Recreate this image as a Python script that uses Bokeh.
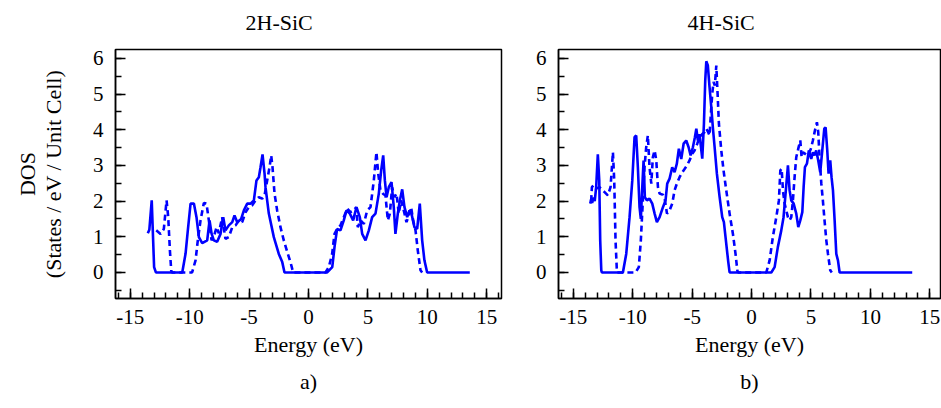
from bokeh.plotting import figure
from bokeh.layouts import row
from bokeh.models import SingleIntervalTicker, Title, Range1d
from bokeh.embed import file_html
from bokeh.resources import INLINE

# ---- 2H-SiC ----
e2_solid = [-13.53, -13.4, -13.2, -13.0, -12.85, -10.63, -10.35, -10.16, -9.93, -9.65, -9.43, -9.23, -8.95,
            -8.53, -8.33, -8.16, -7.97, -7.69, -7.41, -7.18, -6.99, -6.71, -6.42, -6.23, -6.0, -5.67, -5.44,
            -5.16, -4.88, -4.6, -4.38, -4.18, -4.04, -3.87, -3.7, -3.62, -3.34, -2.92, -2.5, -2.21, -2.02,
            1.57, 2.0, 2.19, 2.41, 2.69, 2.97, 3.2, 3.48, 3.76, 4.04, 4.32, 4.52, 4.8, 5.08, 5.36, 5.64, 5.92,
            6.12, 6.29, 6.43, 6.57, 6.76, 6.99, 7.18, 7.32, 7.52, 7.69, 7.89, 8.08, 8.31, 8.5, 8.67, 8.92,
            9.15, 9.37, 9.57, 9.76, 9.99, 13.58]
d2_solid = [1.10, 1.2, 2.02, 0.15, 0.0, 0.0, 0.53, 1.18, 1.93, 1.93, 1.55, 0.99, 0.82,
            0.9, 1.46, 1.09, 0.9, 0.86, 1.08, 1.55, 1.18, 1.32, 1.41, 1.6, 1.41, 1.5, 1.74,
            1.93, 1.93, 2.02, 2.58, 2.67, 2.95, 3.31, 2.77, 2.39, 1.65, 0.99, 0.52, 0.29, 0.0,
            0.0, 0.15, 0.71, 1.22, 1.18, 1.46, 1.74, 1.65, 1.46, 1.83, 1.55, 1.08, 0.9, 1.18, 1.55, 1.65, 2.21,
            2.86, 3.28, 2.58, 2.11, 2.39, 2.53, 1.83, 1.08, 1.65, 2.02, 2.33, 1.83, 1.55, 1.74, 1.65, 1.27,
            1.22, 1.93, 0.9, 0.34, 0.0, 0.0]
e2_dash = [-12.82, -12.46, -12.18, -11.95, -11.81, -11.67, -11.56, -11.5, -9.8, -9.51, -9.32, -9.09, -8.81,
           -8.59, -8.39, -8.16, -7.97, -7.74, -7.55, -7.27, -6.99, -6.71, -6.42, -6.14, -5.86, -5.58, -5.3,
           -5.02, -4.74, -4.46, -4.18, -3.9, -3.7, -3.48, -3.28, -3.14, -3.03, -2.86, -2.64, -2.36, -2.08,
           -1.74, -1.52, -1.29, 1.43, 1.71, 1.99, 2.19, 2.41, 2.69, 2.97, 3.26, 3.54, 3.81, 4.01, 4.15, 4.38,
           4.66, 4.94, 5.22, 5.5, 5.72, 5.87, 6.06, 6.29, 6.48, 6.68, 6.85, 7.04, 7.24, 7.41, 7.6, 7.8, 8.02,
           8.25, 8.45, 8.64, 8.81, 9.01, 9.2, 9.43, 9.57]
d2_dash = [1.18, 1.08, 1.22, 2.02, 1.55, 0.62, 0.06, 0.0, 0.0, 0.34, 0.9, 1.46, 1.95,
           1.93, 1.46, 0.9, 1.0, 1.27, 1.1, 1.55, 0.94, 0.99, 1.27, 1.32, 1.46, 1.41, 1.69,
           1.83, 1.88, 2.02, 2.11, 2.07, 2.16, 2.58, 2.95, 3.28, 2.95, 2.21, 1.74, 1.27, 0.9,
           0.52, 0.29, 0.0, 0.0, 0.15, 0.52, 1.08, 1.22, 1.32, 1.55, 1.79, 1.69, 1.74, 1.83, 1.27, 1.46,
           1.36, 1.74, 1.83, 2.58, 3.37, 2.77, 2.3, 2.2, 2.16, 1.46, 1.65, 2.39, 2.11, 2.21, 1.65, 2.02, 1.74,
           1.41, 1.6, 1.83, 1.46, 1.18, 0.62, 0.06, 0.0]

# ---- 4H-SiC ----
e4_solid = [-13.58, -13.5, -13.42, -13.3, -13.2, -13.08, -12.94, -12.82, -12.74, -12.65, -12.6, -10.83,
            -10.55, -10.27, -10.04, -9.85, -9.71, -9.57, -9.43, -9.32, -9.2, -9.09, -8.98, -8.81, -8.59,
            -8.36, -8.16, -7.97, -7.74, -7.46, -7.24, -7.1, -6.9, -6.68, -6.48, -6.29, -6.12, -5.92, -5.72,
            -5.5, -5.3, -5.13, -4.94, -4.77, -4.65, -4.52, -4.38, -4.23, -4.15, -4.01, -3.9, -3.81, -3.68,
            -3.54, -3.39, -3.26, -3.11, -2.92, -2.69, -2.47, -2.33, -2.13, -1.96, -1.85, 1.66, 1.94, 2.21,
            2.5, 2.69, 2.86, 3.06, 3.2, 3.34, 3.54, 3.76, 3.93, 4.1, 4.27, 4.38, 4.49, 4.66, 4.82, 5.02, 5.16,
            5.3, 5.44, 5.61, 5.78, 5.95, 6.12, 6.23, 6.37, 6.48, 6.62, 6.73, 6.85, 6.99, 7.13, 7.27, 7.41, 13.52]
d4_solid = [1.93, 2.05, 1.95, 2.1, 2.0, 2.39, 3.31, 2.58, 0.9, 0.06, 0.0, 0.0,
            0.52, 1.55, 2.58, 3.79, 3.84, 2.95, 1.83, 1.5, 2.39, 3.14, 2.11, 2.02, 2.07,
            1.93, 1.65, 1.41, 1.55, 1.83, 2.02, 2.49, 2.63, 2.95, 2.81, 3.05, 3.47, 3.18, 3.61,
            3.7, 3.51, 3.28, 3.51, 3.79, 4.03, 3.7, 3.88, 3.42, 3.19, 4.17, 5.38, 5.92, 5.8,
            5.2, 4.63, 4.07, 3.51, 2.77, 2.11, 1.55, 1.41, 0.8, 0.29, 0.0, 0.0, 0.15, 0.71,
            1.18, 1.55, 2.21, 3.0, 2.3, 2.02, 1.93, 1.65, 1.27, 1.46, 1.69, 2.39, 2.95, 3.05, 3.42, 3.18, 3.37,
            3.28, 3.42, 3.14, 2.81, 3.42, 4.03, 4.07, 3.42, 2.77, 3.14, 2.67, 2.3, 1.46, 0.52, 0.34, 0.0, 0.0]
e4_dash = [-13.5, -13.44, -13.3, -13.1, -12.8, -12.37, -12.1, -11.87, -11.67, -11.56, -11.45, -11.34, -11.3,
           -9.76, -9.49, -9.32, -9.15, -9.01, -8.87, -8.73, -8.59, -8.44, -8.31, -8.16, -8.02, -7.88, -7.74,
           -7.46, -7.29, -7.12, -6.9, -6.68, -6.48, -6.29, -6.06, -5.83, -5.64, -5.44, -5.22, -4.99, -4.8,
           -4.57, -4.38, -4.15, -3.96, -3.81, -3.65, -3.54, -3.39, -3.31, -3.2, -3.09, -2.97, -2.86, -2.75,
           -2.55, -2.36, -2.13, -1.85, -1.57, -1.35, -1.2, -1.14, 1.24, 1.52, 1.79, 2.08, 2.3, 2.42, 2.53,
           2.64, 2.78, 2.92, 3.06, 3.2, 3.34, 3.48, 3.62, 3.76, 3.93, 4.1, 4.21, 4.32, 4.49, 4.66, 4.82, 4.99,
           5.16, 5.33, 5.5, 5.61, 5.72, 5.87, 6.0, 6.14, 6.29, 6.43, 6.62, 6.75]
d4_dash = [2.0, 2.39, 2.44, 2.35, 2.39, 2.25, 2.16, 2.39, 3.37, 2.58, 0.9, 0.06, 0.0,
           0.0, 0.15, 0.9, 2.02, 2.95, 3.51, 3.84, 2.95, 2.49, 3.23, 3.42, 3.14, 2.39, 2.21,
           2.18, 2.02, 1.65, 1.74, 1.93, 2.3, 2.49, 2.67, 2.81, 2.9, 3.0, 3.14, 3.33, 3.42,
           3.61, 3.79, 3.88, 3.93, 4.03, 3.93, 3.84, 4.63, 5.01, 5.34, 5.24, 5.8, 5.01, 4.17,
           3.42, 2.86, 2.3, 1.65, 1.08, 0.52, 0.06, 0.0, 0.0, 0.34, 0.99, 1.55, 2.02, 2.86, 2.91,
           2.3, 1.93, 1.74, 1.55, 1.46, 1.55, 2.02, 2.67, 3.23, 3.47, 3.7, 3.23, 3.37, 3.33, 3.28, 3.33, 3.47,
           3.7, 3.98, 4.21, 3.93, 3.23, 2.49, 2.02, 1.46, 0.9, 0.52, 0.06, 0.0]

x_labels = {-15: "-15", -10: "-10", -5: "-5", 0: "0", 5: "5", 10: "10", 15: "15"}
FONT = "Liberation Serif"
BLUE = "#0000ff"


def make(title, title_offset, sub, es, ds, ed, dd, width, bl, br, x_end, ylabel):
    p = figure(width=width, height=406, output_backend="svg", toolbar_location=None,
               x_range=Range1d(-16.25, x_end), y_range=Range1d(-0.73, 6.25),
               min_border_left=bl, min_border_right=br, min_border_top=49, min_border_bottom=108)
    p.grid.visible = False
    p.background_fill_color = "white"
    p.border_fill_color = "white"
    p.outline_line_color = "black"
    p.outline_line_width = 1.5
    p.line(es, ds, line_color=BLUE, line_width=2.6)
    p.line(ed, dd, line_color=BLUE, line_width=2.6, line_dash="6 4")

    p.xaxis.ticker = SingleIntervalTicker(interval=5, num_minor_ticks=5)
    p.yaxis.ticker = SingleIntervalTicker(interval=1, num_minor_ticks=2)
    p.xaxis.major_label_overrides = x_labels
    for ax in (p.xaxis[0], p.yaxis[0]):
        ax.axis_line_color = "black"
        ax.axis_line_width = 1.5
        ax.major_tick_line_color = "black"
        ax.minor_tick_line_color = "black"
        ax.major_tick_line_width = 1.5
        ax.minor_tick_line_width = 1.5
        ax.major_tick_in = 10
        ax.major_tick_out = 0
        ax.minor_tick_in = 6
        ax.minor_tick_out = 0
        ax.major_label_text_font = FONT
        ax.major_label_text_font_size = "21px"
        ax.major_label_text_color = "black"
        ax.axis_label_text_font = FONT
        ax.axis_label_text_font_size = "22px"
        ax.axis_label_text_font_style = "normal"
        ax.axis_label_text_color = "black"
    p.xaxis.major_label_standoff = 11
    p.yaxis.major_label_standoff = 12
    p.xaxis.axis_label = "Energy (eV)"
    p.xaxis.axis_label_standoff = 5
    if ylabel:
        p.yaxis.axis_label = ylabel
        p.yaxis.axis_label_standoff = 24
        p.yaxis.axis_label_text_line_height = 1.05

    # panel title (outermost) with a blank spacer between it and the frame
    p.title.text = title
    p.title.align = "left"
    p.title.offset = title_offset
    p.title.text_font = FONT
    p.title.text_font_size = "22px"
    p.title.text_font_style = "normal"
    p.title.text_color = "black"
    p.title.standoff = 3
    p.add_layout(Title(text=" ", text_font_size="10px", standoff=0), "above")

    p.add_layout(Title(text=sub, align="center", text_font=FONT, text_font_size="22px",
                       text_font_style="normal", text_color="black", standoff=15), "below")
    return p


left = make("2H-SiC", 130, "a)", e2_solid, d2_solid, e2_dash, d2_dash, 530, 115, 29, 16.25,
            "DOS\n(States / eV / Unit Cell)")
right = make("4H-SiC", 129, "b)", e4_solid, d4_solid, e4_dash, d4_dash, 411, 28, 1, 15.9, None)

layout = row(left, right, spacing=0)
open("out.html", "w").write(file_html(layout, INLINE))
